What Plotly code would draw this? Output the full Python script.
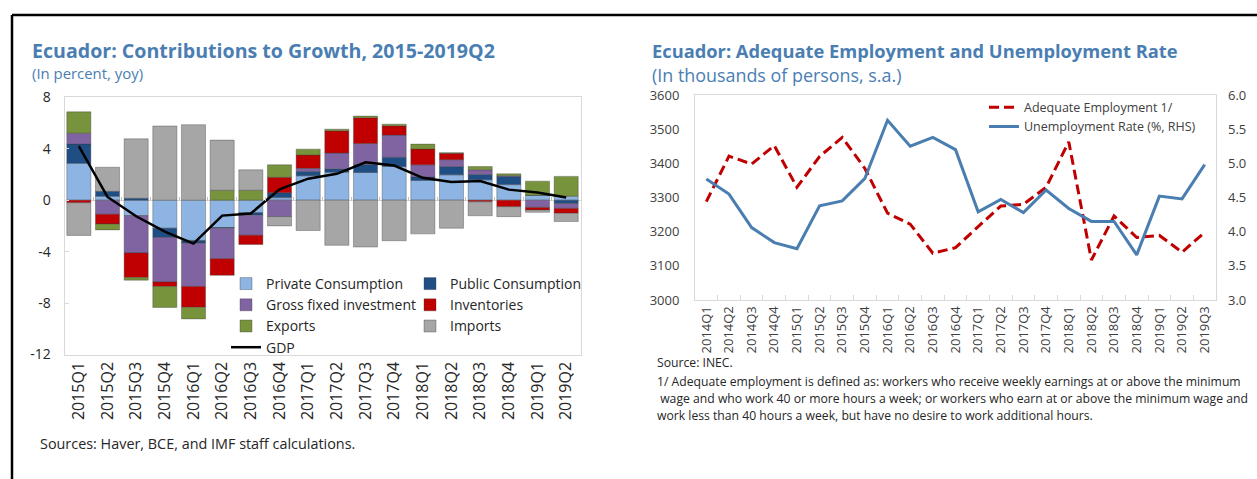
import plotly.graph_objects as go

# ---------------- Left chart data ----------------
quarters_left = ["2015Q1", "2015Q2", "2015Q3", "2015Q4", "2016Q1", "2016Q2", "2016Q3", "2016Q4",
                 "2017Q1", "2017Q2", "2017Q3", "2017Q4", "2018Q1", "2018Q2", "2018Q3", "2018Q4",
                 "2019Q1", "2019Q2"]
private_cons = [2.87, 0.31, -1.20, -2.18, -3.13, -2.13, -0.97, 0.20, 1.90, 2.18, 2.15, 2.62, 1.54, 1.97, 1.59, 1.21, 0.38, 0.31]
public_cons = [1.49, 0.38, 0.15, -0.72, -0.20, -0.05, -0.20, 0.38, 0.33, 0.26, 0.62, 0.72, 0.26, 0.64, 0.41, 0.64, 0.00, -0.26]
gross_fixed_inv = [0.85, -1.10, -2.90, -3.46, -3.38, -2.38, -1.56, -1.28, 0.25, 1.23, 1.64, 1.72, 0.95, 0.54, 0.36, 0.05, -0.56, -0.38]
inventories = [-0.20, -0.75, -1.92, -0.36, -1.62, -1.28, -0.72, 1.20, 1.03, 1.72, 2.00, 0.72, 1.23, 0.49, -0.13, -0.51, -0.20, -0.38]
exports = [1.66, -0.46, -0.20, -1.62, -0.90, 0.77, 0.77, 0.97, 0.46, 0.13, 0.13, 0.13, 0.38, 0.05, 0.26, 0.15, 1.10, 1.54]
imports = [-2.54, 1.87, 4.62, 5.77, 5.87, 3.90, 1.59, -0.72, -2.36, -3.51, -3.64, -3.15, -2.62, -2.18, -1.08, -0.77, -0.18, -0.64]
gdp = [4.20, 0.25, -1.25, -2.44, -3.38, -1.20, -1.03, 0.85, 1.67, 2.05, 2.95, 2.69, 1.74, 1.41, 1.49, 0.82, 0.59, 0.21]
left_yticks = [-12, -8, -4, 0, 4, 8]
left_yticktext = ["-12", "-8", "-4", "0", "4", "8"]

# ---------------- Right chart data ----------------
quarters_right = ["2014Q1", "2014Q2", "2014Q3", "2014Q4", "2015Q1", "2015Q2", "2015Q3", "2015Q4",
                  "2016Q1", "2016Q2", "2016Q3", "2016Q4", "2017Q1", "2017Q2", "2017Q3", "2017Q4",
                  "2018Q1", "2018Q2", "2018Q3", "2018Q4", "2019Q1", "2019Q2", "2019Q3"]
adequate_emp = [3288, 3421, 3398, 3452, 3330, 3420, 3476, 3385, 3254, 3222, 3137, 3153, 3215,
                3275, 3280, 3330, 3463, 3117, 3246, 3183, 3189, 3140, 3198]
unemp_rate = [4.77, 4.55, 4.06, 3.84, 3.75, 4.38, 4.45, 4.78, 5.63, 5.25, 5.38, 5.20, 4.29,
              4.47, 4.28, 4.61, 4.34, 4.15, 4.15, 3.66, 4.52, 4.48, 4.98]
right_left_ticks = [3000, 3100, 3200, 3300, 3400, 3500, 3600]
right_right_ticks = [3.0, 3.5, 4.0, 4.5, 5.0, 5.5, 6.0]

W, H = 1257, 479
FONT = "Open Sans"
TITLE_BLUE = "#4a7eb2"
FRAME = "#d9d9d9"


def px(x):
    return x / W


def py(y):
    return 1 - y / H


fig = go.Figure()

# (name, values, colour, legend column)
bar_series = [
    ("Private Consumption", private_cons, "#8db4e2", "legend"),
    ("Public Consumption", public_cons, "#1f4e85", "legend3"),
    ("Gross fixed investment", gross_fixed_inv, "#8064a2", "legend"),
    ("Inventories", inventories, "#c00000", "legend3"),
    ("Exports", exports, "#77933c", "legend"),
    ("Imports", imports, "#a6a6a6", "legend3"),
]
for name, vals, col, leg in bar_series:
    fig.add_trace(go.Bar(x=quarters_left, y=vals, name=name, marker_color=col,
                         marker_line=dict(color="rgba(60,60,60,0.45)", width=0.8),
                         xaxis="x", yaxis="y", legend=leg))
fig.add_trace(go.Scatter(x=quarters_left, y=gdp, name="GDP", mode="lines",
                         line=dict(color="black", width=2.5), xaxis="x", yaxis="y", legend="legend"))

# invisible helper trace so the category-tick axis along the zero line gets drawn
fig.add_trace(go.Scatter(x=quarters_left, y=[0] * len(quarters_left), mode="lines",
                         line=dict(color="rgba(0,0,0,0)", width=0), showlegend=False,
                         hoverinfo="skip", xaxis="x3", yaxis="y"))

fig.add_trace(go.Scatter(x=quarters_right, y=adequate_emp, name="Adequate Employment 1/", mode="lines",
                         line=dict(color="#c00000", width=3, dash="10px,5px"),
                         xaxis="x2", yaxis="y2", legend="legend2"))
fig.add_trace(go.Scatter(x=quarters_right, y=unemp_rate, name="Unemployment Rate (%, RHS)", mode="lines",
                         line=dict(color="#4a7eb0", width=3),
                         xaxis="x2", yaxis="y3", legend="legend2"))

leg_common = dict(orientation="v", xanchor="left", yanchor="top", bgcolor="rgba(0,0,0,0)",
                  borderwidth=0, traceorder="normal", xref="container", yref="container")

fig.update_layout(
    width=W, height=H, margin=dict(l=0, r=0, t=0, b=0, pad=0, autoexpand=False),
    paper_bgcolor="white", plot_bgcolor="white",
    font=dict(family=FONT, color="#262626"),
    barmode="relative", bargap=0.16,
    xaxis=dict(domain=[px(64.5), px(580.5)], anchor="y", type="category", range=[-0.5, 17.5],
               showline=True, mirror=True, linecolor=FRAME, linewidth=1, ticks="",
               tickangle=-90, tickfont=dict(size=16, color="#262626"), showgrid=False,
               automargin=False),
    xaxis3=dict(domain=[px(64.5), px(580.5)], anchor="free", position=py(200.5), overlaying="x",
                type="category", range=[-0.5, 17.5], showline=False, showgrid=False,
                showticklabels=False, ticks="inside", tickson="boundaries", ticklen=4,
                tickcolor="#bfbfbf", automargin=False),
    yaxis=dict(domain=[py(354.5), py(97.3)], anchor="x", range=[-12, 8],
               tickvals=left_yticks, ticktext=left_yticktext,
               showline=True, mirror=True, linecolor=FRAME, linewidth=1, showgrid=False,
               ticks="inside", ticklen=4, tickcolor=FRAME, ticklabelstandoff=10,
               zeroline=True, zerolinecolor=FRAME, zerolinewidth=1, automargin=False,
               tickfont=dict(size=14, color="#262626")),
    xaxis2=dict(domain=[px(695), px(1216)], anchor="y2", type="category", range=[-0.5, 22.5],
                showline=True, mirror=True, linecolor=FRAME, linewidth=1, showgrid=False,
                ticks="inside", tickson="boundaries", ticklen=5, tickcolor=FRAME,
                tickangle=-90, tickfont=dict(size=13, color="#404040"), automargin=False),
    yaxis2=dict(domain=[py(300), py(95)], anchor="x2", range=[3000, 3600], tickvals=right_left_ticks,
                showline=True, mirror=True, linecolor=FRAME, linewidth=1, showgrid=False,
                zeroline=False, ticks="", ticklabelstandoff=12, automargin=False,
                tickfont=dict(size=13, color="#404040")),
    yaxis3=dict(overlaying="y2", side="right", anchor="x2", range=[3.0, 6.0], tickvals=right_right_ticks,
                tickformat=".1f", showgrid=False, zeroline=False, showline=False, ticks="",
                ticklabelstandoff=11, automargin=False, tickfont=dict(size=13, color="#404040")),
    legend=dict(x=px(226), y=py(268), font=dict(size=14, color="#262626"), **leg_common),
    legend3=dict(x=px(410), y=py(268), font=dict(size=14, color="#262626"), **leg_common),
    legend2=dict(x=px(984), y=py(92.5), font=dict(size=12.5, color="#404040"), **leg_common),
    showlegend=True,
)

annotations = [
    dict(text="<b>Ecuador: Contributions to Growth, 2015-2019Q2</b>", x=px(30), y=py(50),
         font=dict(size=19.6, color=TITLE_BLUE)),
    dict(text="(In percent, yoy)", x=px(30), y=py(73), font=dict(size=14.9, color=TITLE_BLUE)),
    dict(text="<b>Ecuador: Adequate Employment and Unemployment Rate</b>", x=px(650), y=py(50),
         font=dict(size=18.3, color=TITLE_BLUE)),
    dict(text="(In thousands of persons, s.a.)", x=px(650), y=py(75), font=dict(size=17.9, color=TITLE_BLUE)),
    dict(text="Sources: Haver, BCE, and IMF staff calculations.", x=px(38), y=py(443),
         font=dict(size=14.4, color="#262626")),
    dict(text="Source: INEC.", x=px(655), y=py(362), font=dict(size=12.2, color="#262626")),
    dict(text="1/ Adequate employment is defined as: workers who receive weekly earnings at or above the minimum",
         x=px(655), y=py(381), font=dict(size=12.2, color="#262626")),
    dict(text="&nbsp;wage and who work 40 or more hours a week; or workers who earn at or above the minimum wage and",
         x=px(655), y=py(398), font=dict(size=12.2, color="#262626")),
    dict(text="work less than 40 hours a week, but have no desire to work additional hours.",
         x=px(655), y=py(415), font=dict(size=12.2, color="#262626")),
]
for a in annotations:
    fig.add_annotation(xref="paper", yref="paper", xanchor="left", yanchor="middle",
                       showarrow=False, align="left", **a)

fig.add_shape(type="line", xref="paper", yref="paper", x0=px(12), x1=1, y0=py(15), y1=py(15),
              line=dict(color="black", width=2.5))
fig.add_shape(type="line", xref="paper", yref="paper", x0=px(12), x1=px(12), y0=py(15), y1=0,
              line=dict(color="black", width=2.5))

fig.write_html("out.html", config={"displayModeBar": False},
               post_script="document.body.style.margin='0px';document.body.style.overflow='hidden';")
